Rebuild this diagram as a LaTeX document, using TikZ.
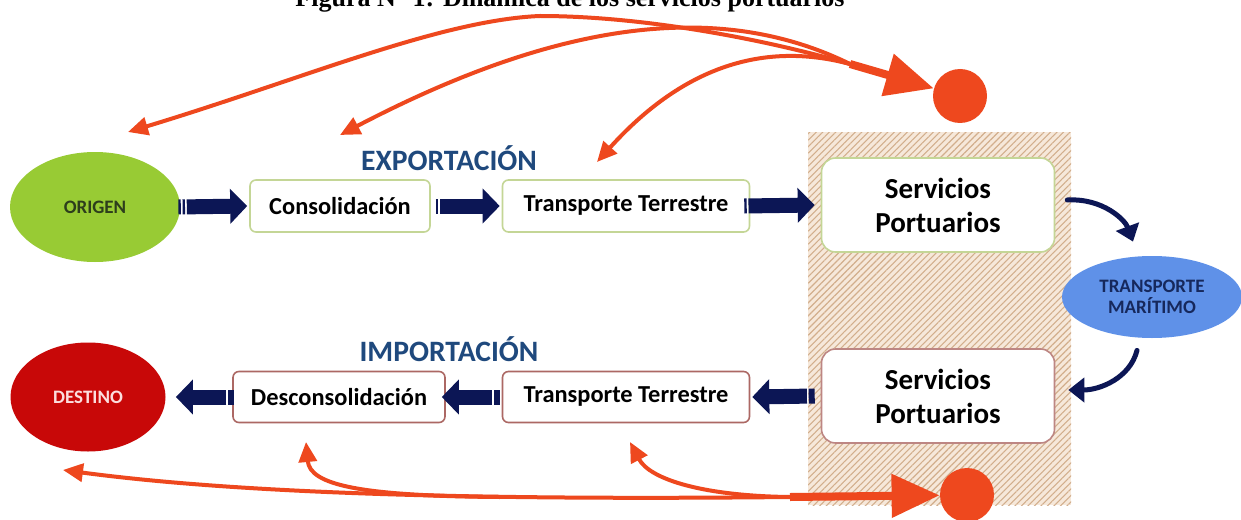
\documentclass[tikz,border=0pt]{standalone}
\usepackage{fontspec}
\setmainfont{Carlito}
\newfontfamily\titlefont{Liberation Serif}
\usetikzlibrary{shapes,arrows.meta,calc,patterns.meta}
\definecolor{shipnavy}{RGB}{12,22,85}
\definecolor{hotorange}{RGB}{238,72,30}
\definecolor{origgreen}{RGB}{152,203,52}
\definecolor{origtext}{RGB}{45,62,28}
\definecolor{destred}{RGB}{200,8,8}
\definecolor{desttext}{RGB}{252,222,222}
\definecolor{seablue}{RGB}{95,145,232}
\definecolor{seatext}{RGB}{22,40,92}
\definecolor{labelblue}{RGB}{31,73,125}
\definecolor{expgreen}{RGB}{196,214,150}
\definecolor{improse}{RGB}{172,104,100}
\definecolor{portpeach}{RGB}{246,232,218}
\definecolor{porthatch}{RGB}{210,174,140}

\begin{document}
\begin{tikzpicture}[x=0.5pt,y=-0.5pt,
  exbox/.style={draw=expgreen, line width=0.8pt, rounded corners=3pt, fill=white, minimum height=26pt, font=\bfseries\fontsize{12.2}{14}\selectfont},
  imbox/.style={exbox, draw=improse},
  portbox/.style={draw=expgreen, line width=0.8pt, rounded corners=7pt, fill=white, minimum width=116.5pt, minimum height=47pt, align=center, font=\bfseries\fontsize{14.5}{17}\selectfont},
  endpoint/.style={ellipse, inner sep=0pt, font=\bfseries\fontsize{9.5}{10.5}\selectfont},
  flowlabel/.style={text=labelblue, font=\bfseries\fontsize{14.8}{16}\selectfont},
  blockarrow/.style={draw=shipnavy, line width=7.5pt, -{Triangle[length=8.5pt,width=17pt]}},
  bartwo/.style={dash pattern=on 1.2pt off 0.9pt on 1.2pt off 0.9pt on 80pt off 0pt},
  barone/.style={dash pattern=on 1.2pt off 0.9pt on 80pt off 0pt},
  barblock/.style={dash pattern=on 3pt off 0.9pt on 80pt off 0pt},
  seaarrow/.style={draw=shipnavy, line width=2.5pt, line cap=round, -{Triangle[length=8pt,width=12pt]}},
  hotline/.style={draw=hotorange, line width=2pt, -{Triangle[length=10pt,width=9pt]}},
  hottrunk/.style={draw=hotorange, line width=4pt, -{Triangle[length=24pt,width=21pt]}},
  hub/.style={circle, fill=hotorange, minimum size=27pt, inner sep=0pt}]
\useasboundingbox (0,0) rectangle (1241,519);
\fill[white] (0,0) rectangle (1241,519);
\node[font=\titlefont\bfseries\fontsize{13}{15}\selectfont, anchor=base] (title) at (570,7) {Figura N° 1: Dinámica de los servicios portuarios};

% zona portuaria
\fill[portpeach] (808,132) rectangle (1071,505);
\fill[pattern={Lines[angle=45,distance=2.3pt,line width=0.55pt]}, pattern color=porthatch] (808,132) rectangle (1071,505);

% exportacion
\node[endpoint, fill=origgreen, text=origtext, minimum width=85pt, minimum height=55pt] (orig) at (95,207) {ORIGEN};
\node[exbox, minimum width=90pt] (cons) at (340,206) {Consolidación};
\node[exbox, minimum width=123.5pt] (terr1) at (626,206) {Transporte Terrestre};
\node[portbox] (serv1) at (938,205) {Servicios\\Portuarios};
\node[flowlabel] (exp) at (449,158) {EXPORTACIÓN};

% importacion
\node[endpoint, fill=destred, text=desttext, minimum width=77.5pt, minimum height=54.5pt] (dest) at (88,397) {DESTINO};
\node[imbox, minimum width=106pt, minimum height=25.5pt] (desc) at (339,397) {Desconsolidación};
\node[imbox, minimum width=123.5pt, minimum height=25.5pt] (terr2) at (626,397) {Transporte Terrestre};
\node[portbox, draw=improse!80] (serv2) at (938,396) {Servicios\\Portuarios};
\node[flowlabel] (imp) at (449,349) {IMPORTACIÓN};

\node[endpoint, fill=seablue, text=seatext, minimum width=90pt, minimum height=41pt, align=center] (mar) at (1152,297) {TRANSPORTE\\MARÍTIMO};

% flechas de flujo
\draw[blockarrow, bartwo] ($(orig.east)+(-2,0)$) -- ($(cons.west)+(-2,0)$);
\draw[blockarrow, barone] ($(cons.east)+(5,0)$) -- ($(terr1.west)+(-2,0)$);
\draw[blockarrow, barone] ($(terr1.east)+(-6,0)$) -- ($(serv1.west)+(-6,0)$);
\draw[blockarrow, barblock] ($(serv2.west)+(-6,0)$) -- ($(terr2.east)+(2,0)$);
\draw[blockarrow, barblock] ($(terr2.west)+(-2,0)$) -- ($(desc.east)+(-4,0)$);
\draw[blockarrow, barblock] ($(desc.west)+(2,0)$) -- ($(dest.east)+(10,0)$);
\draw[seaarrow] ($(serv1.east)+(12,-5)$) .. controls (1103,198) and (1125,220) .. ($(mar.north)+(-19,-14)$);
\draw[seaarrow] ($(mar.south)+(-15,12)$) .. controls (1130,378) and (1100,390) .. ($(serv2.east)+(13,-6)$);

% documentos / informacion
\node[hub] (hubE) at (960,96) {};
\node[hub] (hubI) at (967,495) {};
\coordinate (topfork) at (850,64);
\coordinate (tipO) at (128,132);
\coordinate (tipC) at (340,135);
\coordinate (tipT) at (597,162);
\draw[hottrunk] (topfork) -- (hubE);
\draw[hotline] (topfork) .. controls (760,38) and (640,16) .. (540,16) .. controls (440,20) and (300,80) .. (tipO);
\draw[hotline] (topfork) .. controls (720,0) and (560,20) .. (tipC);
\draw[hotline] (topfork) .. controls (760,40) and (680,70) .. (tipT);
\coordinate (botfork) at (790,497);
\coordinate (botsplit) at (500,497);
\coordinate (tipD) at (63,470);
\coordinate (tipDe) at (306,442);
\coordinate (tipTr) at (630,442);
\draw[hottrunk] (botfork) -- (hubI);
\draw[hotline] (botfork) .. controls (500,500) and (250,495) .. (tipD);
\draw[hotline] (botsplit) .. controls (360,496) and (310,485) .. (tipDe);
\draw[hotline] (botfork) .. controls (705,496) and (650,480) .. (tipTr);
\end{tikzpicture}
\end{document}
